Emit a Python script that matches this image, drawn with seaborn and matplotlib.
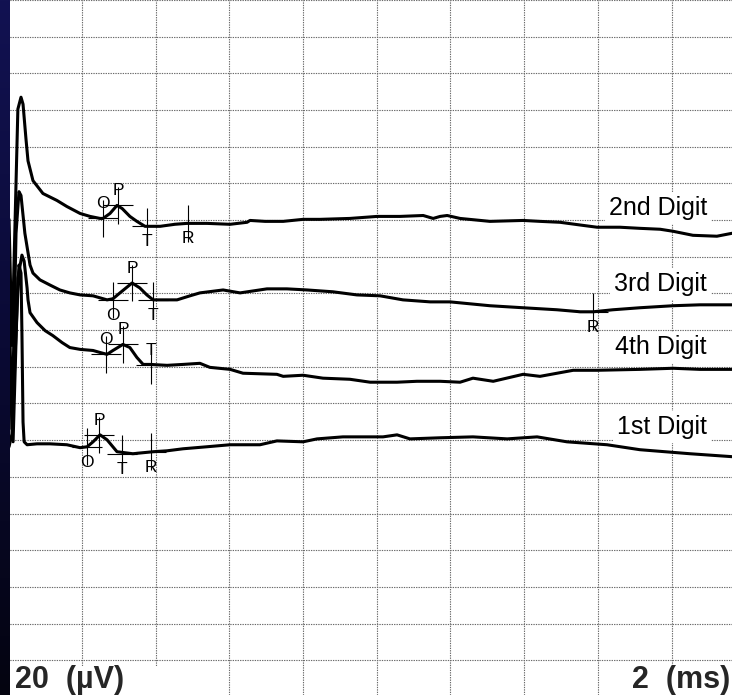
import numpy as np
import pandas as pd
import matplotlib
matplotlib.use("Agg")
import matplotlib.pyplot as plt
from matplotlib.patches import Rectangle
import seaborn as sns

# ---------------- data (time in ms, amplitude in µV on the display scale) ----------------
digit_names = ["2nd Digit", "3rd Digit", "4th Digit", "1st Digit"]

t_2nd = [0.02, 0.10, 0.26, 0.345, 0.40, 0.48, 0.535, 0.67, 0.94, 1.32, 1.59, 1.95, 2.22, 2.49, 2.57,
         2.76, 2.95, 3.09, 3.30, 3.49, 3.71, 4.12, 4.52, 4.85, 5.39, 6.02, 6.48, 6.56, 6.97, 7.46,
         8.00, 8.46, 9.27, 10.01, 10.63, 11.26, 11.53, 11.72, 11.91, 12.26, 13.07, 13.97, 14.43,
         14.97, 15.60, 15.98, 16.60, 17.14, 17.69, 18.04, 18.58, 19.23, 19.64]
a_2nd = [240.4, 171.6, 300.5, 307.0, 303.2, 284.2, 272.3, 261.5, 254.5, 250.7, 247.4, 243.6, 242.0,
         240.9, 240.9, 243.6, 248.0, 246.3, 242.0, 239.3, 236.6, 236.6, 237.7, 238.2, 238.2, 237.7,
         238.8, 239.8, 239.3, 239.3, 240.4, 240.4, 240.9, 242.0, 242.0, 242.5, 240.9, 242.0, 242.5,
         240.9, 239.3, 239.8, 239.3, 238.8, 237.1, 236.1, 236.1, 235.5, 235.0, 233.9, 231.7, 231.2,
         232.8]

t_3rd = [0.02, 0.10, 0.21, 0.29, 0.345, 0.45, 0.59, 0.67, 0.86, 1.13, 1.40, 1.67, 1.95, 2.30, 2.68,
         2.84, 3.03, 3.36, 3.57, 3.76, 3.93, 4.58, 4.93, 5.20, 5.83, 6.29, 7.02, 7.56, 8.11, 8.81,
         9.46, 10.09, 10.71, 11.45, 11.99, 13.07, 13.97, 14.89, 15.52, 15.87, 16.41, 17.14, 18.04,
         18.77, 19.64]
a_3rd = [199.2, 126.1, 232.8, 255.5, 253.4, 232.8, 215.5, 211.1, 207.4, 204.6, 201.9, 200.3, 199.2,
         198.7, 196.5, 197.1, 200.3, 205.7, 203.0, 199.2, 196.5, 196.5, 198.7, 200.3, 201.9, 200.3,
         202.5, 202.5, 201.9, 200.9, 199.2, 198.7, 196.5, 195.4, 195.4, 193.3, 192.2, 191.1, 190.0,
         190.0, 191.1, 192.2, 193.3, 193.8, 193.8]

t_4th = [0.02, 0.13, 0.26, 0.37, 0.43, 0.51, 0.535, 0.59, 0.78, 1.00, 1.21, 1.46, 1.67, 1.95, 2.30,
         2.49, 2.68, 2.84, 3.11, 3.30, 3.49, 3.66, 3.85, 4.31, 4.74, 5.20, 5.47, 6.02, 6.37, 7.29,
         7.46, 8.00, 8.54, 9.27, 9.82, 10.55, 11.09, 11.72, 12.26, 12.61, 13.16, 13.97, 14.43, 15.33,
         15.98, 17.14, 18.04, 18.77, 19.64]
a_4th = [162.4, 119.1, 208.4, 220.9, 217.6, 203.0, 196.5, 189.5, 184.1, 179.7, 177.0, 173.2, 170.5,
         169.5, 168.9, 167.8, 166.8, 168.9, 172.2, 170.5, 165.1, 161.3, 161.3, 160.8, 161.3, 161.9,
         159.7, 158.6, 156.5, 155.9, 154.8, 155.4, 153.8, 153.2, 151.6, 151.6, 152.1, 152.1, 151.6,
         153.8, 152.1, 155.9, 154.8, 158.1, 158.1, 158.6, 159.2, 158.6, 158.6]

t_1st = [0.02, 0.10, 0.21, 0.29, 0.345, 0.37, 0.40, 0.43, 0.51, 0.78, 1.13, 1.59, 1.95, 2.14, 2.30,
         2.49, 2.68, 2.95, 3.38, 3.93, 4.31, 4.74, 5.39, 6.02, 6.83, 7.29, 8.00, 8.38, 9.08, 10.17,
         10.55, 10.90, 11.72, 12.61, 13.54, 14.35, 15.16, 16.25, 17.14, 18.50, 19.64]
a_1st = [116.4, 123.4, 178.7, 215.5, 211.1, 178.7, 129.9, 119.1, 117.5, 118.0, 118.0, 117.5, 115.9,
         116.4, 119.1, 122.9, 120.2, 113.7, 112.6, 113.7, 114.2, 115.3, 116.4, 117.5, 117.5, 119.6,
         119.1, 120.7, 121.8, 121.8, 122.9, 120.7, 121.3, 121.8, 120.7, 121.8, 119.1, 117.5, 114.8,
         112.6, 111.0]

# latency markers (Onset, Peak, Trough, Recovery)
marker_trace = ["2nd Digit"] * 4 + ["3rd Digit"] * 4 + ["4th Digit"] * 3 + ["1st Digit"] * 4
marker_label = ["O", "P", "T", "R", "O", "P", "T", "R", "O", "P", "T", "O", "P", "T", "R"]
marker_time = [2.57, 2.98, 3.76, 4.88, 2.84, 3.36, 3.93, 15.87, 2.65, 3.11, 3.87, 2.14, 2.46, 3.09, 3.87]
marker_amp = [240.9, 248.0, 236.6, 238.2, 196.5, 205.7, 196.5, 190.0, 166.8, 172.2, 160.8,
              116.4, 122.9, 112.6, 113.7]
marker_side = ["above", "above", "below", "below", "below", "above", "below", "below",
               "above", "above", "above", "below", "above", "below", "below"]

scale_labels = ["20  (µV)", "2  (ms)"]

# ---------------- build table ----------------
frames = []
for name, t, a in zip(digit_names, [t_2nd, t_3rd, t_4th, t_1st], [a_2nd, a_3rd, a_4th, a_1st]):
    frames.append(pd.DataFrame({"time": t, "amp": a, "trace": name}))
df = pd.concat(frames, ignore_index=True)

# ---------------- figure ----------------
sns.set_theme(style="white")
plt.rcParams["font.family"] = ["Liberation Sans", "DejaVu Sans"]

W, H = 732, 695
fig = plt.figure(figsize=(W / 100, H / 100), dpi=100)
fig.patch.set_facecolor("white")
ax = fig.add_axes([0, 0, 1, 1])
ax.set_facecolor("white")
ax.set_xlim(-0.225, 19.64)
ax.set_ylim(-18.95, 357.3)
ax.set_xticks(np.arange(0, 20, 2))
ax.set_yticks(np.arange(0, 361, 20))
ax.grid(True, color="#6a6a6a", linestyle=(0, (1.2, 1.0)), linewidth=0.8)
ax.set_axisbelow(True)
ax.tick_params(length=0, labelbottom=False, labelleft=False)
for s in ax.spines.values():
    s.set_visible(False)

sns.lineplot(data=df, x="time", y="amp", units="trace", estimator=None, sort=False,
             color="black", linewidth=2.2, ax=ax, legend=False)
ax.set_xlabel("")
ax.set_ylabel("")

# markers
for tr, lab, t, a, side in zip(marker_trace, marker_label, marker_time, marker_amp, marker_side):
    ax.vlines(t, a - 10, a + 10, color="black", linewidth=0.8, zorder=4)
    ax.hlines(a, t - 0.40, t + 0.40, color="black", linewidth=0.8, zorder=4)
    dy = 8 if side == "above" else -8.5
    ax.text(t, a + dy, lab, ha="center", va="center", fontsize=12.5, color="black", zorder=5)

# trace names
name_pos = {"2nd Digit": 242.5, "3rd Digit": 201.4, "4th Digit": 166.8, "1st Digit": 123.4}
for name in digit_names:
    ax.text(18.96, name_pos[name], name, ha="right", va="baseline", fontsize=18, color="black",
            zorder=6, bbox=dict(facecolor="white", edgecolor="none", boxstyle="square,pad=0.15"))

# white panels behind the scale labels at the bottom
for x0, x1 in [(0, 165), (615, W)]:
    fig.add_artist(Rectangle((x0 / W, 0), (x1 - x0) / W, (H - 666) / H,
                             transform=fig.transFigure, facecolor="white", edgecolor="none",
                             zorder=5))
base_y = (H - 688) / H
fig.text(15 / W, base_y, scale_labels[0], fontsize=22, fontweight="bold", ha="left",
         va="baseline", zorder=10)
fig.text(730 / W, base_y, scale_labels[1], fontsize=22, fontweight="bold", ha="right",
         va="baseline", zorder=10)

# dark blue strip on the left edge
sax = fig.add_axes([0, 0, 10 / W, 1])
sax.set_zorder(20)
top = np.array([18, 18, 82]) / 255
mid = np.array([10, 10, 52]) / 255
bot = np.array([4, 4, 16]) / 255
f = np.linspace(0, 1, 256)[:, None]
grad = np.where(f < 0.5, top + (mid - top) * (f / 0.5), mid + (bot - mid) * ((f - 0.5) / 0.5))
sax.imshow(grad[:, None, :], aspect="auto", extent=[0, 1, 0, 1], origin="upper")
sax.axis("off")

fig.savefig("out.png", dpi=100)
